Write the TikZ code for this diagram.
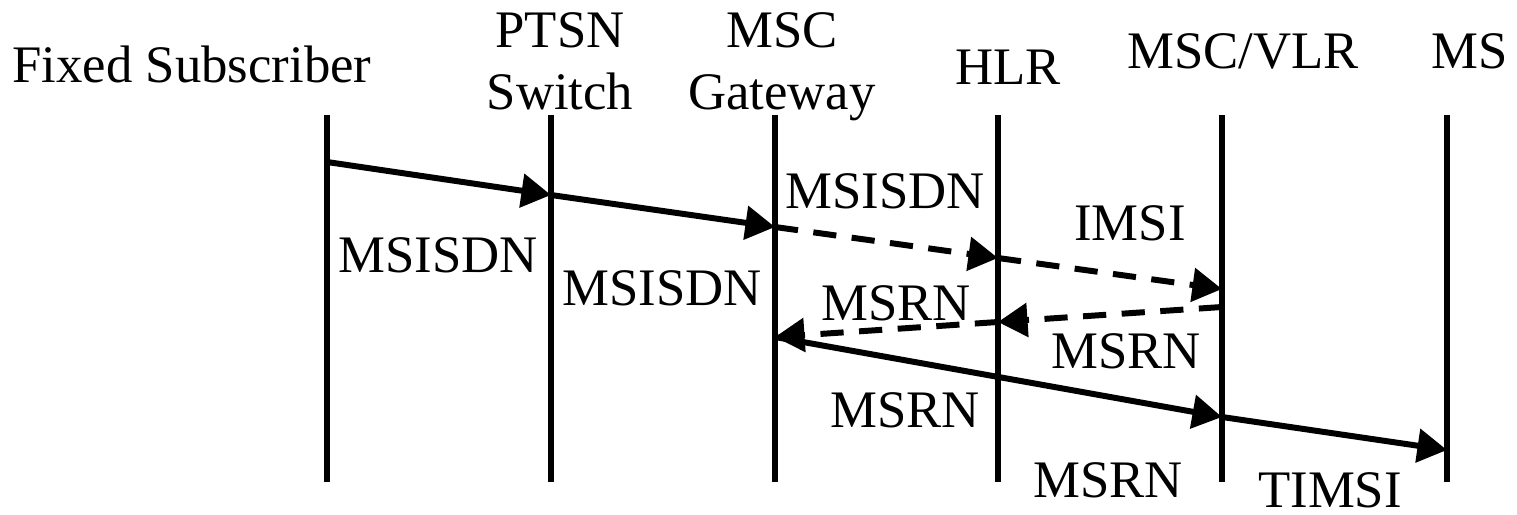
\documentclass[tikz,border=0pt]{standalone}
\usepackage{fontspec}
\setmainfont{Liberation Serif}
\usetikzlibrary{arrows.meta,positioning,calc}
\tikzset{
  actor/.style={font=\fontsize{15}{17.6}\selectfont,align=center,inner sep=0pt,anchor=base},
  msglabel/.style={font=\fontsize{15}{17.6}\selectfont,inner sep=0pt,anchor=base},
  life/.style={draw=black,line width=1.7pt},
  call/.style={-{Triangle[length=8.4pt,width=9.4pt]},draw=black,line width=1.7pt},
  query/.style={call,dash pattern=on 6.6pt off 4.4pt}
}

\begin{document}
\begin{tikzpicture}[x=0.01cm,y=-0.01cm]
  \useasboundingbox (0,0) rectangle (1517,515);
  % entities
  \node[actor] (fs) at (192,83) {Fixed Subscriber};
  \node[actor] (ps) at (560,109) {PTSN\\Switch};
  \node[actor] (gw) at (782,109) {MSC\\Gateway};
  \node[actor] (hlr) at (1008,84) {HLR};
  \node[actor] (vlr) at (1243,68) {MSC/VLR};
  \node[actor] (ms) at (1470,68) {MS};
  % lifelines
  \coordinate (fs-top) at (327,115);  \coordinate (fs-bot) at (327,482);
  \coordinate (ps-top) at (551,115);  \coordinate (ps-bot) at (551,482);
  \coordinate (gw-top) at (775,115);  \coordinate (gw-bot) at (775,482);
  \coordinate (hlr-top) at (998,115); \coordinate (hlr-bot) at (998,482);
  \coordinate (vlr-top) at (1222,115); \coordinate (vlr-bot) at (1222,482);
  \coordinate (ms-top) at (1447,115); \coordinate (ms-bot) at (1447,482);
  \draw[life] (fs-top) -- (fs-bot);
  \draw[life] (ps-top) -- (ps-bot);
  \draw[life] (gw-top) -- (gw-bot);
  \draw[life] (hlr-top) -- (hlr-bot);
  \draw[life] (vlr-top) -- (vlr-bot);
  \draw[life] (ms-top) -- (ms-bot);
  % message points
  \coordinate (fs-1) at (327,162);
  \coordinate (ps-1) at (551,195);
  \coordinate (gw-1) at (775,227);
  \coordinate (hlr-1) at (998,258);
  \coordinate (vlr-1) at (1222,289);
  \coordinate (vlr-2) at (1222,307);
  \coordinate (hlr-2) at (998,322);
  \coordinate (gw-2) at (775,337);
  \coordinate (vlr-3) at (1222,417);
  \coordinate (ms-1) at (1447,450);
  % messages
  \draw[call] (fs-1) -- (ps-1);
  \draw[call] (ps-1) -- (gw-1);
  \draw[query] (gw-1) -- (hlr-1);
  \draw[query] (hlr-1) -- (vlr-1);
  \draw[query] (vlr-2) -- (hlr-2);
  \draw[query] (hlr-2) -- (gw-2);
  \draw[call] (gw-2) -- (vlr-3);
  \draw[call] (vlr-3) -- (ms-1);
  % labels
  \node[msglabel] (l1) at (438,272) {MSISDN};
  \node[msglabel] (l2) at (662,305) {MSISDN};
  \node[msglabel] (l3) at (885,208) {MSISDN};
  \node[msglabel] (l4) at (1130,240) {IMSI};
  \node[msglabel] (l5) at (896,320) {MSRN};
  \node[msglabel] (l6) at (1126,368) {MSRN};
  \node[msglabel] (l7) at (905,427) {MSRN};
  \node[msglabel] (l8) at (1108,497) {MSRN};
  \node[msglabel] (l9) at (1330,507) {TIMSI};
\end{tikzpicture}
\end{document}
